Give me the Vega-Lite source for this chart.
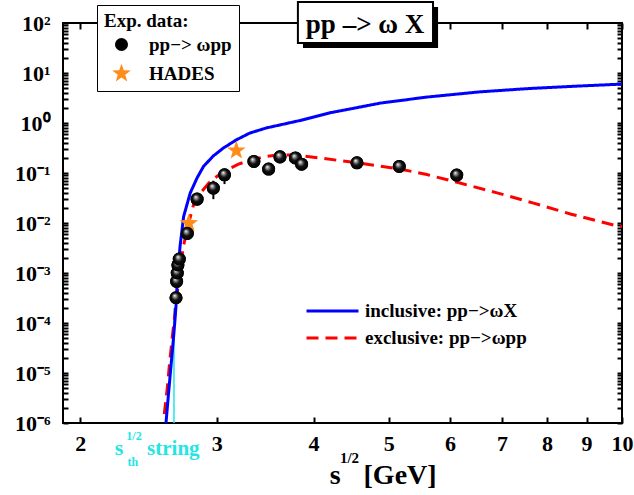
{
  "$schema": "https://vega.github.io/schema/vega-lite/v6.json",
  "width": 559,
  "height": 400,
  "autosize": {"type": "none"},
  "padding": {"left": 63, "top": 23, "right": 12, "bottom": 72},
  "background": "white",
  "config": {"font": "Liberation Serif", "view": {"stroke": "black", "strokeWidth": 2}},
  "data": {"values": [
      {"x": 2.658, "y": 0.00032, "set": "pp−> ωpp"},
      {"x": 2.663, "y": 0.00068, "set": "pp−> ωpp"},
      {"x": 2.668, "y": 0.0010, "set": "pp−> ωpp"},
      {"x": 2.673, "y": 0.00145, "set": "pp−> ωpp"},
      {"x": 2.684, "y": 0.0019, "set": "pp−> ωpp"},
      {"x": 2.749, "y": 0.0062, "lo": 0.0048, "hi": 0.0080, "set": "pp−> ωpp"},
      {"x": 2.83, "y": 0.030, "set": "pp−> ωpp"},
      {"x": 2.97, "y": 0.050, "lo": 0.030, "hi": 0.070, "set": "pp−> ωpp"},
      {"x": 3.07, "y": 0.092, "lo": 0.060, "hi": 0.120, "set": "pp−> ωpp"},
      {"x": 3.35, "y": 0.17, "set": "pp−> ωpp"},
      {"x": 3.50, "y": 0.12, "set": "pp−> ωpp"},
      {"x": 3.62, "y": 0.21, "set": "pp−> ωpp"},
      {"x": 3.79, "y": 0.20, "set": "pp−> ωpp"},
      {"x": 3.86, "y": 0.15, "set": "pp−> ωpp"},
      {"x": 4.55, "y": 0.16, "set": "pp−> ωpp"},
      {"x": 5.16, "y": 0.135, "set": "pp−> ωpp"},
      {"x": 6.12, "y": 0.091, "set": "pp−> ωpp"},
      {"x": 2.761, "y": 0.0099, "set": "HADES"},
      {"x": 3.18, "y": 0.28, "set": "HADES"}
  ]},
  "layer": [
    {
      "data": {"values": [{}]},
      "mark": {"type": "rule", "color": "#22e5e5", "strokeWidth": 1.5},
      "encoding": {
        "x": {"datum": 2.642, "type": "quantitative", "scale": {"type": "log", "domain": [1.9, 10], "nice": false}, "axis": null},
        "y": {"datum": 0.000001, "type": "quantitative", "scale": {"type": "log", "domain": [0.000001, 100], "nice": false}, "axis": null},
        "y2": {"datum": 0.0002}
      }
    },
    {
      "data": {"values": [
      {"x": 2.567, "y": 0.0000015, "model": "exclusive: pp−>ωpp"},
      {"x": 2.590, "y": 0.000005, "model": "exclusive: pp−>ωpp"},
      {"x": 2.610, "y": 0.000018, "model": "exclusive: pp−>ωpp"},
      {"x": 2.630, "y": 0.000055, "model": "exclusive: pp−>ωpp"},
      {"x": 2.648, "y": 0.00014, "model": "exclusive: pp−>ωpp"},
      {"x": 2.663, "y": 0.00029, "model": "exclusive: pp−>ωpp"},
      {"x": 2.684, "y": 0.0010, "model": "exclusive: pp−>ωpp"},
      {"x": 2.719, "y": 0.0036, "model": "exclusive: pp−>ωpp"},
      {"x": 2.76, "y": 0.010, "model": "exclusive: pp−>ωpp"},
      {"x": 2.80, "y": 0.023, "model": "exclusive: pp−>ωpp"},
      {"x": 2.86, "y": 0.040, "model": "exclusive: pp−>ωpp"},
      {"x": 2.93, "y": 0.063, "model": "exclusive: pp−>ωpp"},
      {"x": 3.00, "y": 0.085, "model": "exclusive: pp−>ωpp"},
      {"x": 3.09, "y": 0.115, "model": "exclusive: pp−>ωpp"},
      {"x": 3.20, "y": 0.15, "model": "exclusive: pp−>ωpp"},
      {"x": 3.31, "y": 0.18, "model": "exclusive: pp−>ωpp"},
      {"x": 3.45, "y": 0.21, "model": "exclusive: pp−>ωpp"},
      {"x": 3.59, "y": 0.23, "model": "exclusive: pp−>ωpp"},
      {"x": 3.75, "y": 0.23, "model": "exclusive: pp−>ωpp"},
      {"x": 3.88, "y": 0.22, "model": "exclusive: pp−>ωpp"},
      {"x": 4.29, "y": 0.18, "model": "exclusive: pp−>ωpp"},
      {"x": 4.55, "y": 0.16, "model": "exclusive: pp−>ωpp"},
      {"x": 5.17, "y": 0.12, "model": "exclusive: pp−>ωpp"},
      {"x": 5.6, "y": 0.093, "model": "exclusive: pp−>ωpp"},
      {"x": 6.18, "y": 0.063, "model": "exclusive: pp−>ωpp"},
      {"x": 6.9, "y": 0.040, "model": "exclusive: pp−>ωpp"},
      {"x": 7.69, "y": 0.025, "model": "exclusive: pp−>ωpp"},
      {"x": 8.6, "y": 0.015, "model": "exclusive: pp−>ωpp"},
      {"x": 9.75, "y": 0.0091, "model": "exclusive: pp−>ωpp"},
      {"x": 10, "y": 0.0085, "model": "exclusive: pp−>ωpp"},
      {"x": 2.580, "y": 0.000001, "model": "inclusive: pp−>ωX"},
      {"x": 2.600, "y": 0.000004, "model": "inclusive: pp−>ωX"},
      {"x": 2.620, "y": 0.000015, "model": "inclusive: pp−>ωX"},
      {"x": 2.635, "y": 0.00004, "model": "inclusive: pp−>ωX"},
      {"x": 2.648, "y": 0.0001, "model": "inclusive: pp−>ωX"},
      {"x": 2.658, "y": 0.00022, "model": "inclusive: pp−>ωX"},
      {"x": 2.668, "y": 0.0007, "model": "inclusive: pp−>ωX"},
      {"x": 2.690, "y": 0.0034, "model": "inclusive: pp−>ωX"},
      {"x": 2.719, "y": 0.0135, "model": "inclusive: pp−>ωX"},
      {"x": 2.773, "y": 0.040, "model": "inclusive: pp−>ωX"},
      {"x": 2.830, "y": 0.080, "model": "inclusive: pp−>ωX"},
      {"x": 2.884, "y": 0.135, "model": "inclusive: pp−>ωX"},
      {"x": 2.97, "y": 0.22, "model": "inclusive: pp−>ωX"},
      {"x": 3.06, "y": 0.316, "model": "inclusive: pp−>ωX"},
      {"x": 3.18, "y": 0.46, "model": "inclusive: pp−>ωX"},
      {"x": 3.31, "y": 0.63, "model": "inclusive: pp−>ωX"},
      {"x": 3.48, "y": 0.80, "model": "inclusive: pp−>ωX"},
      {"x": 3.66, "y": 0.95, "model": "inclusive: pp−>ωX"},
      {"x": 3.84, "y": 1.12, "model": "inclusive: pp−>ωX"},
      {"x": 4.2, "y": 1.6, "model": "inclusive: pp−>ωX"},
      {"x": 4.88, "y": 2.5, "model": "inclusive: pp−>ωX"},
      {"x": 5.6, "y": 3.3, "model": "inclusive: pp−>ωX"},
      {"x": 6.56, "y": 4.2, "model": "inclusive: pp−>ωX"},
      {"x": 7.6, "y": 4.9, "model": "inclusive: pp−>ωX"},
      {"x": 8.83, "y": 5.5, "model": "inclusive: pp−>ωX"},
      {"x": 10, "y": 6.0, "model": "inclusive: pp−>ωX"}
      ]},
      "mark": {"type": "line", "strokeWidth": 3},
      "encoding": {
        "x": {"field": "x", "type": "quantitative", "scale": {"type": "log", "domain": [1.9, 10], "nice": false},
          "axis": {"orient": "bottom", "title": null, "values": [2, 3, 4, 5, 6, 7, 8, 9, 10], "format": "d", "domain": false, "grid": false,
            "tickSize": -6, "tickWidth": 2, "tickColor": "black", "labelFont": "Liberation Serif", "labelFontSize": 22, "labelFontWeight": "bold",
            "labelColor": "black", "labelPadding": 16, "labelFlush": false, "labelOverlap": false, "labelBound": false}},
        "y": {"field": "y", "type": "quantitative", "scale": {"type": "log", "domain": [0.000001, 100], "nice": false},
          "axis": {"orient": "left", "title": null, "domain": false, "grid": false,
            "values": [0.000001, 0.000002, 0.000003, 0.000004, 0.000005, 0.000006, 0.000007, 0.000008, 0.000009,
              0.00001, 0.00002, 0.00003, 0.00004, 0.00005, 0.00006, 0.00007, 0.00008, 0.00009,
              0.0001, 0.0002, 0.0003, 0.0004, 0.0005, 0.0006, 0.0007, 0.0008, 0.0009,
              0.001, 0.002, 0.003, 0.004, 0.005, 0.006, 0.007, 0.008, 0.009,
              0.01, 0.02, 0.03, 0.04, 0.05, 0.06, 0.07, 0.08, 0.09,
              0.1, 0.2, 0.3, 0.4, 0.5, 0.6, 0.7, 0.8, 0.9,
              1, 2, 3, 4, 5, 6, 7, 8, 9,
              10, 20, 30, 40, 50, 60, 70, 80, 90, 100],
            "labelExpr": "abs(log(datum.value)/LN10 - round(log(datum.value)/LN10)) < 0.001 ? '10' + (round(log(datum.value)/LN10) < 0 ? '⁻' : '') + ['⁰','¹','²','³','⁴','⁵','⁶'][abs(round(log(datum.value)/LN10))] : ''",
            "tickSize": -5, "tickWidth": 2, "tickColor": "black",
            "encode": {"ticks": {"update": {"x2": {"signal": "abs(log(datum.value)/LN10 - round(log(datum.value)/LN10)) < 0.001 ? 9 : 5"}}}},
            "labelFont": "Liberation Serif", "labelFontSize": 22, "labelFontWeight": "bold", "labelColor": "black",
            "labelPadding": 18, "labelFlush": false, "labelOverlap": false, "labelBound": false}},
        "stroke": {"field": "model", "type": "nominal",
          "scale": {"domain": ["inclusive: pp−>ωX", "exclusive: pp−>ωpp"], "range": ["#0000ff", "#ff0000"]},
          "legend": {"title": null, "orient": "none", "legendX": 242, "legendY": 278, "padding": 0,
            "labelFont": "Liberation Serif", "labelFontSize": 19, "labelFontWeight": "bold", "labelColor": "black", "labelLimit": 400,
            "symbolType": "stroke", "symbolSize": 2704, "symbolStrokeWidth": 3, "clipHeight": 20, "rowPadding": 7, "labelOffset": 5}},
        "strokeDash": {"field": "model", "type": "nominal",
          "scale": {"domain": ["inclusive: pp−>ωX", "exclusive: pp−>ωpp"], "range": [[1, 0], [12, 7]]},
          "legend": {"title": null, "orient": "none", "legendX": 242, "legendY": 278, "padding": 0,
            "labelFont": "Liberation Serif", "labelFontSize": 19, "labelFontWeight": "bold", "labelColor": "black", "labelLimit": 400,
            "symbolType": "stroke", "symbolSize": 2704, "symbolStrokeWidth": 3, "clipHeight": 20, "rowPadding": 7, "labelOffset": 5}}
      }
    },
    {
      "transform": [{"filter": "isValid(datum.lo)"}],
      "mark": {"type": "rule", "color": "black", "strokeWidth": 2},
      "encoding": {
        "x": {"field": "x", "type": "quantitative", "scale": {"type": "log", "domain": [1.9, 10], "nice": false}, "axis": null},
        "y": {"field": "lo", "type": "quantitative", "scale": {"type": "log", "domain": [0.000001, 100], "nice": false}, "axis": null},
        "y2": {"field": "hi"}
      }
    },
    {
      "mark": {"type": "point", "filled": true, "size": 170, "opacity": 1, "strokeWidth": 0},
      "encoding": {
        "x": {"field": "x", "type": "quantitative", "scale": {"type": "log", "domain": [1.9, 10], "nice": false},
          "axis": {"orient": "top", "title": null, "values": [2, 3, 4, 5, 6, 7, 8, 9, 10], "labels": false, "domain": false, "grid": false,
            "tickSize": -6, "tickWidth": 2, "tickColor": "black"}},
        "y": {"field": "y", "type": "quantitative", "scale": {"type": "log", "domain": [0.000001, 100], "nice": false},
          "axis": {"orient": "right", "title": null, "labels": false, "domain": false, "grid": false,
            "values": [0.000001, 0.000002, 0.000003, 0.000004, 0.000005, 0.000006, 0.000007, 0.000008, 0.000009,
              0.00001, 0.00002, 0.00003, 0.00004, 0.00005, 0.00006, 0.00007, 0.00008, 0.00009,
              0.0001, 0.0002, 0.0003, 0.0004, 0.0005, 0.0006, 0.0007, 0.0008, 0.0009,
              0.001, 0.002, 0.003, 0.004, 0.005, 0.006, 0.007, 0.008, 0.009,
              0.01, 0.02, 0.03, 0.04, 0.05, 0.06, 0.07, 0.08, 0.09,
              0.1, 0.2, 0.3, 0.4, 0.5, 0.6, 0.7, 0.8, 0.9,
              1, 2, 3, 4, 5, 6, 7, 8, 9,
              10, 20, 30, 40, 50, 60, 70, 80, 90, 100],
            "tickSize": -5, "tickWidth": 2, "tickColor": "black",
            "encode": {"ticks": {"update": {"x2": {"signal": "abs(log(datum.value)/LN10 - round(log(datum.value)/LN10)) < 0.001 ? -9 : -5"}}}}}},
        "fill": {"field": "set", "type": "nominal",
          "scale": {"domain": ["pp−> ωpp", "HADES"], "range": ["#000000", "#ff8c1a"]},
          "legend": {"title": "Exp. data:", "orient": "none", "legendX": 34, "legendY": -18, "padding": 7,
            "strokeColor": "black", "fillColor": "white", "titleFont": "Liberation Serif", "titleFontSize": 19,
            "titleFontWeight": "bold", "titleColor": "black", "titlePadding": 4,
            "labelFont": "Liberation Serif", "labelFontSize": 19, "labelFontWeight": "bold", "labelColor": "black",
            "symbolSize": 170, "symbolStrokeWidth": 0, "symbolOffset": 8, "rowPadding": 8, "labelOffset": 18}},
        "shape": {"field": "set", "type": "nominal",
          "scale": {"domain": ["pp−> ωpp", "HADES"], "range": ["circle", "M0,-1.5L0.353,-0.486L1.427,-0.464L0.57,0.186L0.882,1.214L0,0.6L-0.882,1.214L-0.57,0.186L-1.427,-0.464L-0.353,-0.486Z"]},
          "legend": {"title": "Exp. data:", "orient": "none", "legendX": 34, "legendY": -18, "padding": 7,
            "strokeColor": "black", "fillColor": "white", "titleFont": "Liberation Serif", "titleFontSize": 19,
            "titleFontWeight": "bold", "titleColor": "black", "titlePadding": 4,
            "labelFont": "Liberation Serif", "labelFontSize": 19, "labelFontWeight": "bold", "labelColor": "black",
            "symbolSize": 170, "symbolStrokeWidth": 0, "symbolOffset": 8, "rowPadding": 8, "labelOffset": 18}}
      }
    },
    {
      "transform": [{"filter": "datum.set == 'pp−> ωpp'"}],
      "mark": {"type": "point", "shape": "circle", "filled": true, "size": 170, "opacity": 1, "strokeWidth": 0,
        "fill": {"gradient": "radial", "x1": 0.38, "y1": 0.32, "r1": 0, "x2": 0.5, "y2": 0.5, "r2": 0.5,
          "stops": [{"offset": 0, "color": "#ffffff"}, {"offset": 0.25, "color": "#8a8a8a"}, {"offset": 0.55, "color": "#111111"}, {"offset": 1, "color": "#000000"}]}},
      "encoding": {
        "x": {"field": "x", "type": "quantitative", "scale": {"type": "log", "domain": [1.9, 10], "nice": false}, "axis": null},
        "y": {"field": "y", "type": "quantitative", "scale": {"type": "log", "domain": [0.000001, 100], "nice": false}, "axis": null}
      }
    },
    {
      "data": {"values": [{}]},
      "mark": {"type": "rect", "fill": "black"},
      "encoding": {
        "x": {"datum": 3.876, "type": "quantitative", "scale": {"type": "log", "domain": [1.9, 10], "nice": false}, "axis": null},
        "x2": {"datum": 5.790},
        "y": {"datum": 208.9, "type": "quantitative", "scale": {"type": "log", "domain": [0.000001, 100], "nice": false}, "axis": null},
        "y2": {"datum": 31.6}
      }
    },
    {
      "data": {"values": [{}]},
      "mark": {"type": "rect", "fill": "white", "stroke": "black", "strokeWidth": 2},
      "encoding": {
        "x": {"datum": 3.818, "type": "quantitative", "scale": {"type": "log", "domain": [1.9, 10], "nice": false}, "axis": null},
        "x2": {"datum": 5.704},
        "y": {"datum": 263, "type": "quantitative", "scale": {"type": "log", "domain": [0.000001, 100], "nice": false}, "axis": null},
        "y2": {"datum": 39.8}
      }
    },
    {
      "data": {"values": [{}]},
      "mark": {"type": "text", "font": "Liberation Serif", "fontSize": 27, "fontWeight": "bold", "color": "black", "align": "center", "baseline": "alphabetic"},
      "encoding": {
        "x": {"datum": 4.661, "type": "quantitative", "scale": {"type": "log", "domain": [1.9, 10], "nice": false}, "axis": null},
        "y": {"datum": 63.1, "type": "quantitative", "scale": {"type": "log", "domain": [0.000001, 100], "nice": false}, "axis": null},
        "text": {"value": "pp –> ω X"}
      }
    },
    {
      "data": {"values": [{}]},
      "mark": {"type": "text", "font": "Liberation Serif", "fontSize": 22, "fontWeight": "bold", "color": "#22e5e5", "align": "center", "baseline": "alphabetic"},
      "encoding": {
        "x": {"datum": 2.244, "type": "quantitative", "scale": {"type": "log", "domain": [1.9, 10], "nice": false}, "axis": null},
        "y": {"datum": 0.000000229, "type": "quantitative", "scale": {"type": "log", "domain": [0.000001, 100], "nice": false}, "axis": null},
        "text": {"value": "s"}
      }
    },
    {
      "data": {"values": [{}]},
      "mark": {"type": "text", "font": "Liberation Serif", "fontSize": 12, "fontWeight": "bold", "color": "#22e5e5", "align": "center", "baseline": "alphabetic"},
      "encoding": {
        "x": {"datum": 2.346, "type": "quantitative", "scale": {"type": "log", "domain": [1.9, 10], "nice": false}, "axis": null},
        "y": {"datum": 0.000000457, "type": "quantitative", "scale": {"type": "log", "domain": [0.000001, 100], "nice": false}, "axis": null},
        "text": {"value": "1/2"}
      }
    },
    {
      "data": {"values": [{}]},
      "mark": {"type": "text", "font": "Liberation Serif", "fontSize": 12, "fontWeight": "bold", "color": "#22e5e5", "align": "center", "baseline": "alphabetic"},
      "encoding": {
        "x": {"datum": 2.338, "type": "quantitative", "scale": {"type": "log", "domain": [1.9, 10], "nice": false}, "axis": null},
        "y": {"datum": 0.000000138, "type": "quantitative", "scale": {"type": "log", "domain": [0.000001, 100], "nice": false}, "axis": null},
        "text": {"value": "th"}
      }
    },
    {
      "data": {"values": [{}]},
      "mark": {"type": "text", "font": "Liberation Serif", "fontSize": 21, "fontWeight": "bold", "color": "#22e5e5", "align": "left", "baseline": "alphabetic"},
      "encoding": {
        "x": {"datum": 2.439, "type": "quantitative", "scale": {"type": "log", "domain": [1.9, 10], "nice": false}, "axis": null},
        "y": {"datum": 0.000000229, "type": "quantitative", "scale": {"type": "log", "domain": [0.000001, 100], "nice": false}, "axis": null},
        "text": {"value": "string"}
      }
    },
    {
      "data": {"values": [{}]},
      "mark": {"type": "text", "font": "Liberation Serif", "fontSize": 28, "fontWeight": "bold", "color": "black", "align": "center", "baseline": "alphabetic"},
      "encoding": {
        "x": {"datum": 4.264, "type": "quantitative", "scale": {"type": "log", "domain": [1.9, 10], "nice": false}, "axis": null},
        "y": {"datum": 0.0000000603, "type": "quantitative", "scale": {"type": "log", "domain": [0.000001, 100], "nice": false}, "axis": null},
        "text": {"value": "s"}
      }
    },
    {
      "data": {"values": [{}]},
      "mark": {"type": "text", "font": "Liberation Serif", "fontSize": 15, "fontWeight": "bold", "color": "black", "align": "center", "baseline": "alphabetic"},
      "encoding": {
        "x": {"datum": 4.45, "type": "quantitative", "scale": {"type": "log", "domain": [1.9, 10], "nice": false}, "axis": null},
        "y": {"datum": 0.0000001585, "type": "quantitative", "scale": {"type": "log", "domain": [0.000001, 100], "nice": false}, "axis": null},
        "text": {"value": "1/2"}
      }
    },
    {
      "data": {"values": [{}]},
      "mark": {"type": "text", "font": "Liberation Serif", "fontSize": 28, "fontWeight": "bold", "color": "black", "align": "left", "baseline": "alphabetic"},
      "encoding": {
        "x": {"datum": 4.64, "type": "quantitative", "scale": {"type": "log", "domain": [1.9, 10], "nice": false}, "axis": null},
        "y": {"datum": 0.0000000603, "type": "quantitative", "scale": {"type": "log", "domain": [0.000001, 100], "nice": false}, "axis": null},
        "text": {"value": "[GeV]"}
      }
    }
  ],
  "resolve": {"axis": {"x": "independent", "y": "independent"}}
}
